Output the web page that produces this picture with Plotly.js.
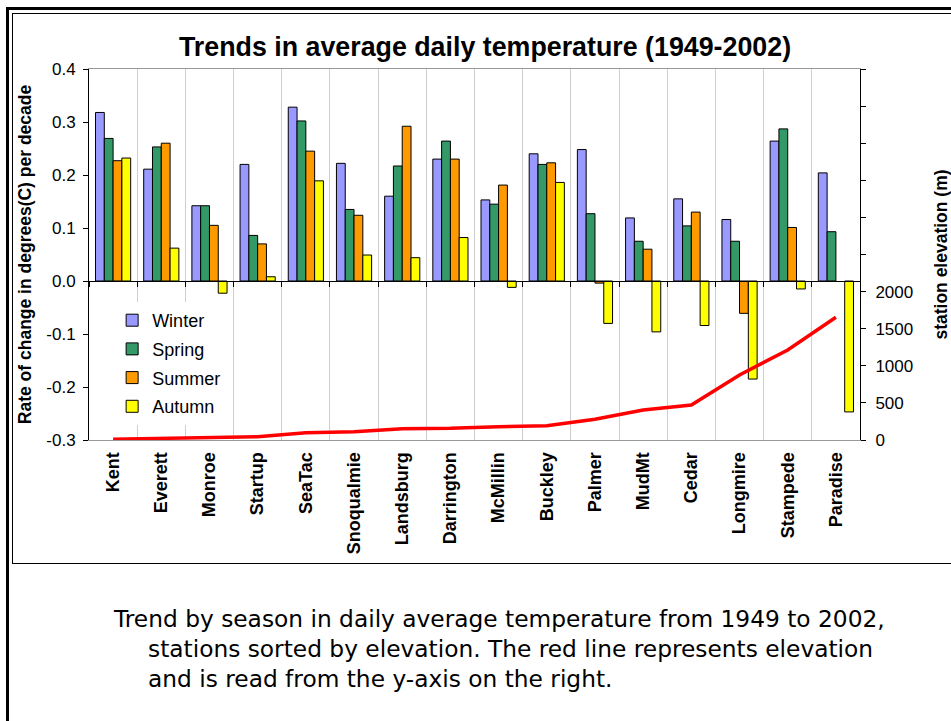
<!DOCTYPE html>
<html>
<head>
<meta charset="utf-8">
<script src="https://cdn.plot.ly/plotly-3.0.1.min.js"></script>
<style>
html,body{margin:0;padding:0;background:#fff;overflow:hidden;}
#wrap{position:relative;width:951px;height:721px;overflow:hidden;}
#chart{position:absolute;left:0;top:0;width:951px;height:721px;}
.frame{position:absolute;pointer-events:none;box-sizing:border-box;}
#caption{position:absolute;left:114px;top:604px;font-family:"DejaVu Sans",Verdana,sans-serif;font-size:23.3px;line-height:30px;color:#000;white-space:nowrap;}
#caption div.ind{padding-left:34px;}
</style>
</head>
<body>
<div id="wrap">
<div id="chart"></div>
<div class="frame" style="left:6px;top:7px;width:1000px;height:800px;border-left:3px solid #000;border-top:3px solid #000;"></div>
<div class="frame" style="left:12px;top:13px;width:1000px;height:551px;border:1.5px solid #000;"></div>
<div id="caption">
<div>Trend by season in daily average temperature from 1949 to 2002,</div>
<div class="ind">stations sorted by elevation. The red line represents elevation</div>
<div class="ind">and is read from the y-axis on the right.</div>
</div>
</div>
<script>
var stations = ['Kent','Everett','Monroe','Startup','SeaTac','Snoqualmie','Landsburg','Darrington','McMillin','Buckley','Palmer','MudMt','Cedar','Longmire','Stampede','Paradise'];
var winter = [0.318,0.211,0.142,0.220,0.328,0.222,0.160,0.230,0.153,0.240,0.248,0.119,0.155,0.116,0.264,0.204];
var spring = [0.269,0.253,0.142,0.086,0.302,0.135,0.217,0.264,0.145,0.220,0.127,0.075,0.104,0.075,0.287,0.093];
var summer = [0.227,0.260,0.105,0.070,0.245,0.124,0.292,0.230,0.181,0.223,-0.004,0.060,0.130,-0.061,0.101,null];
var autumn = [0.232,0.062,-0.023,0.008,0.189,0.049,0.044,0.082,-0.012,0.186,-0.080,-0.096,-0.084,-0.185,-0.015,-0.247];
var elevation = [10,18,31,45,99,112,152,157,179,193,279,404,472,876,1213,1654];
var rateTickVals = [-0.3,-0.2,-0.1,0,0.1,0.2,0.3,0.4];
var rateTickText = ['-0.3','-0.2','-0.1','0.0','0.1','0.2','0.3','0.4'];
var elevTickVals = [0,500,1000,1500,2000,2500,3000,3500,4000,4500,5000];
var elevTickText = ['0','500','1000','1500','2000','','','','','',''];

var FONT = '"Liberation Sans", Arial, sans-serif';
function bar(name, vals, color){
  return {type:'bar', name:name, legendgroup:name, x:stations, y:vals, xaxis:'x', yaxis:'y',
    marker:{color:color, line:{color:'#000', width:1}}, hoverinfo:'x+y'};
}
var traces = [
  bar('Winter', winter, '#9999FF'),
  bar('Spring', spring, '#339966'),
  bar('Summer', summer, '#FF9900'),
  bar('Autumn', autumn, '#FFFF00'),
  {type:'scatter', mode:'lines', name:'Elevation', x:stations, y:elevation,
   xaxis:'x2', yaxis:'y2', showlegend:false, line:{color:'#FF0000', width:3.5}}
];
var layout = {
  width:951, height:721,
  margin:{l:89, r:91, t:69, b:281, pad:0},
  paper_bgcolor:'rgba(0,0,0,0)', plot_bgcolor:'#fff',
  font:{family:FONT, color:'#000'},
  title:{text:'<b>Trends in average daily temperature (1949-2002)</b>', font:{family:FONT, size:26.8, color:'#000'},
    x:0.51, xanchor:'center', y:0.935, yanchor:'middle', yref:'container'},
  barmode:'group', bargap:0.27, bargroupgap:0,
  showlegend:true,
  legend:{x:0.03, xanchor:'left', y:0.372, yanchor:'top', bgcolor:'#fff', borderwidth:0,
    font:{family:FONT, size:18, color:'#000'}, traceorder:'grouped', tracegroupgap:2.3, itemwidth:30},
  xaxis:{type:'category', categoryorder:'array', categoryarray:stations, range:[-0.5,15.5],
    tickson:'boundaries', showgrid:true, gridcolor:'#cfcfcf', gridwidth:1,
    showline:true, linecolor:'#999', linewidth:1, mirror:true, ticks:'',
    tickangle:-90, tickfont:{family:FONT, size:18, weight:'bold', color:'#000'}, ticklabelstandoff:4,
    zeroline:false, fixedrange:true},
  xaxis2:{type:'category', categoryorder:'array', categoryarray:stations, range:[-0.5,15.5],
    overlaying:'x', anchor:'free', position:0.4286, side:'bottom',
    tickson:'boundaries', ticks:'outside', ticklen:5, tickcolor:'#000', tickwidth:1,
    showticklabels:false, showgrid:false, showline:true, linecolor:'#000', linewidth:1, zeroline:false},
  yaxis:{range:[-0.3,0.4], tickvals:rateTickVals, ticktext:rateTickText,
    showgrid:false, zeroline:false, showline:true, linecolor:'#000', linewidth:1,
    ticks:'outside', ticklen:5, tickcolor:'#000', ticklabelstandoff:4,
    tickfont:{family:FONT, size:17, color:'#000'},
    title:{text:'<b>Rate of change in degrees(C) per decade</b>', font:{family:FONT, size:17.5, color:'#000'}, standoff:10}},
  yaxis2:{range:[0,5000], overlaying:'y', side:'right', anchor:'x',
    tickvals:elevTickVals, ticktext:elevTickText,
    showgrid:false, zeroline:false, showline:true, linecolor:'#000', linewidth:1,
    ticks:'outside', ticklen:5, tickcolor:'#000', ticklabelstandoff:6,
    tickfont:{family:FONT, size:17, color:'#000'},
    title:{text:'<b>station elevation (m)</b>', font:{family:FONT, size:17.5, color:'#000'}, standoff:22}}
};
Plotly.newPlot('chart', traces, layout, {displayModeBar:false, staticPlot:true});
</script>
</body>
</html>
